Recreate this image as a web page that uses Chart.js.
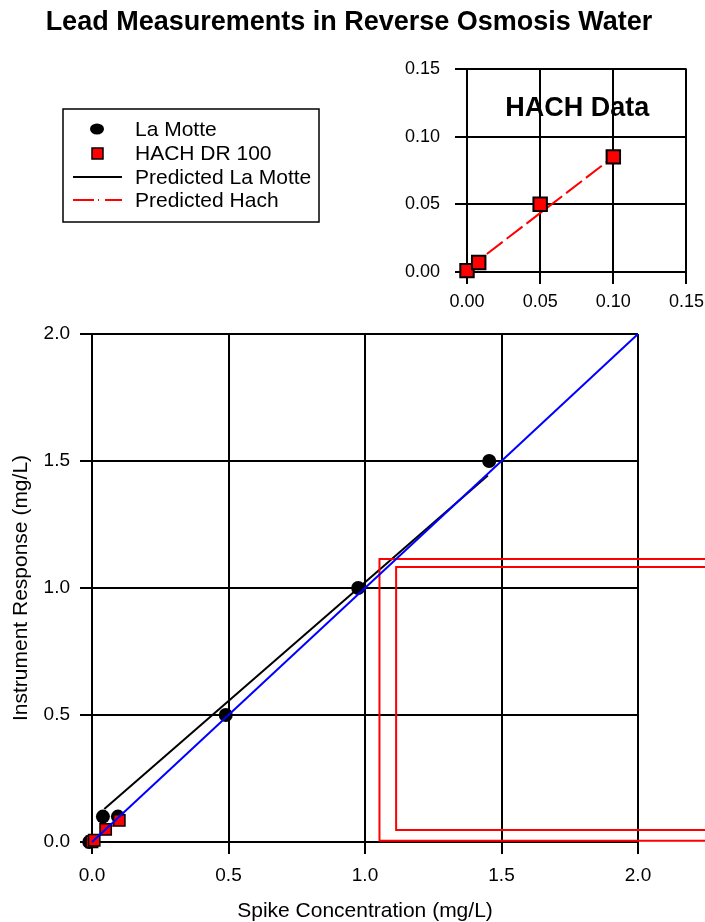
<!DOCTYPE html>
<html>
<head>
<meta charset="utf-8">
<script src="https://cdn.jsdelivr.net/npm/chart.js@4.4.1/dist/chart.umd.min.js"></script>
<style>
    html, body { margin: 0; padding: 0; background: #fff; }
    #wrap { position: relative; width: 705px; height: 922px; overflow: hidden; }
    #mainChart { position: absolute; left: 0; top: 0; width: 705px; height: 922px; }
    #insetChart { position: absolute; left: 380px; top: 43px; width: 331px; height: 282px; }
</style>
</head>
<body>
<div id="wrap">
    <canvas id="mainChart" width="705" height="922"></canvas>
    <canvas id="insetChart" width="331" height="282"></canvas>
</div>
<script>
const laMotteX = [-0.01, 0.04, 0.095, 0.49, 0.975, 1.455];
const laMotteY = [0.0, 0.10, 0.10, 0.50, 1.00, 1.50];
const hachX = [0.0, 0.008, 0.05, 0.10];
const hachY = [0.001, 0.007, 0.050, 0.085];
const predLaMotteX = [0.045, 1.45];
const predLaMotteY = [0.13, 1.443];
const predHachX = [0.0, 0.10];
const predHachY = [0.002, 0.085];
const oneToOneX = [0, 2];
const oneToOneY = [0, 2];
// the two red outline boxes on the main plot (they run off the right edge)
const outerBoxX = [2.4, 1.053, 1.053, 2.4];
const outerBoxY = [1.114, 1.114, 0.005, 0.005];
const innerBoxX = [2.4, 1.114, 1.114, 2.4];
const innerBoxY = [1.083, 1.083, 0.047, 0.047];
const mainTicks = [0, 0.5, 1.0, 1.5, 2.0];
const insetTicks = [0, 0.05, 0.10, 0.15];

const FONT = "'Liberation Sans', Arial, sans-serif";
const RED = '#ff0000';
const HACH_DASH = [20, 5];

Chart.defaults.font.family = FONT;
Chart.defaults.color = '#000';

function toPts(xs, ys) {
    return xs.map((x, i) => ({ x, y: ys[i] }));
}

function axis(ticks, digits, extra) {
    return Object.assign({
        type: 'linear',
        min: ticks[0],
        max: ticks[ticks.length - 1],
        afterBuildTicks: a => { a.ticks = ticks.map(v => ({ value: v })); },
        grid: { color: '#000', lineWidth: 2, tickLength: 12 },
        border: { color: '#000', width: 2 },
        ticks: { color: '#000', callback: v => Number(v).toFixed(digits) }
    }, extra);
}

const decorPlugin = {
    id: 'decor',
    afterDraw(chart) {
        const ctx = chart.ctx;
        ctx.save();
        ctx.fillStyle = '#000';
        ctx.textAlign = 'center';
        ctx.textBaseline = 'middle';
        ctx.font = 'bold 27px ' + FONT;
        ctx.fillText('Lead Measurements in Reverse Osmosis Water', 349, 23);

        // legend box
        ctx.strokeStyle = '#000';
        ctx.lineWidth = 1.5;
        ctx.strokeRect(63, 109, 256, 113);
        ctx.font = '21px ' + FONT;
        ctx.textAlign = 'left';
        const ds = chart.data.datasets;
        const find = name => ds.find(d => d.label === name);
        const rows = [
            { d: find('La Motte'), y: 129 },
            { d: find('HACH DR 100'), y: 153 },
            { d: find('Predicted La Motte'), y: 177 },
            { d: find('Predicted Hach'), y: 200 }
        ];
        rows.forEach(r => {
            const d = r.d;
            ctx.save();
            if (d.pointStyle === 'circle') {
                ctx.fillStyle = d.backgroundColor;
                ctx.beginPath();
                ctx.ellipse(97, r.y, 7, 5.5, 0, 0, Math.PI * 2);
                ctx.fill();
            } else if (d.pointStyle === 'rect') {
                ctx.fillStyle = d.backgroundColor;
                ctx.strokeStyle = d.borderColor;
                ctx.lineWidth = 1.5;
                ctx.fillRect(92, r.y - 5, 11, 11);
                ctx.strokeRect(92, r.y - 5, 11, 11);
            } else {
                ctx.strokeStyle = d.borderColor;
                ctx.lineWidth = 2;
                if (d.borderDash) ctx.setLineDash([21, 4, 1, 6]);
                ctx.beginPath();
                ctx.moveTo(73, r.y);
                ctx.lineTo(122, r.y);
                ctx.stroke();
            }
            ctx.restore();
            ctx.fillText(d.label, 135, r.y + 1);
        });
        ctx.restore();
    }
};

new Chart(document.getElementById('mainChart'), {
    type: 'scatter',
    data: {
        datasets: [
            { label: '1:1', data: toPts(oneToOneX, oneToOneY), showLine: true, borderColor: '#0000ff', borderWidth: 2, pointRadius: 0, clip: false, order: 0 },
            { label: 'box outer', data: toPts(outerBoxX, outerBoxY), showLine: true, borderColor: RED, borderWidth: 2, pointRadius: 0, clip: false, order: 1 },
            { label: 'box inner', data: toPts(innerBoxX, innerBoxY), showLine: true, borderColor: RED, borderWidth: 2, pointRadius: 0, clip: false, order: 1 },
            { label: 'HACH DR 100', data: toPts(hachX, hachY), pointStyle: 'rect', pointRadius: 8, backgroundColor: RED, borderColor: '#000', borderWidth: 1.5, clip: false, order: 2 },
            { label: 'La Motte', data: toPts(laMotteX, laMotteY), pointStyle: 'circle', pointRadius: 7, backgroundColor: '#000', borderColor: '#000', borderWidth: 0, clip: false, order: 3 },
            { label: 'Predicted La Motte', data: toPts(predLaMotteX, predLaMotteY), showLine: true, borderColor: '#000', borderWidth: 2, pointRadius: 0, clip: false, order: 4 },
            { label: 'Predicted Hach', data: toPts(predHachX, predHachY), showLine: true, borderColor: RED, borderWidth: 2, borderDash: HACH_DASH, pointRadius: 0, clip: false, order: 5 }
        ]
    },
    options: {
        responsive: false,
        animation: false,
        events: [],
        layout: { padding: { left: 0, top: 334, right: 67, bottom: 0 } },
        plugins: { legend: { display: false }, tooltip: { enabled: false } },
        scales: {
            x: axis(mainTicks, 1, {
                afterFit: s => { s.height = 80; },
                ticks: { color: '#000', font: { size: 19 }, padding: 10, callback: v => Number(v).toFixed(1) },
                title: { display: true, text: 'Spike Concentration (mg/L)', color: '#000', font: { size: 21, lineHeight: 1.0 }, padding: { top: 0, bottom: 0 } }
            }),
            y: axis(mainTicks, 1, {
                afterFit: s => { s.width = 92; },
                ticks: { color: '#000', font: { size: 19 }, padding: 10, callback: v => Number(v).toFixed(1) },
                title: { display: true, text: 'Instrument Response (mg/L)', color: '#000', font: { size: 21 }, padding: { top: 9, bottom: 0 } }
            })
        }
    },
    plugins: [decorPlugin]
});

const insetLabel = {
    id: 'insetLabel',
    afterDraw(chart) {
        const ctx = chart.ctx;
        const x = chart.scales.x.getPixelForValue(0.0753);
        const y = chart.scales.y.getPixelForValue(0.121);
        ctx.save();
        ctx.fillStyle = '#000';
        ctx.font = 'bold 27px ' + FONT;
        ctx.textAlign = 'center';
        ctx.textBaseline = 'middle';
        ctx.fillText('HACH Data', x, y);
        ctx.restore();
    }
};

new Chart(document.getElementById('insetChart'), {
    type: 'scatter',
    data: {
        datasets: [
            { label: 'HACH DR 100', data: toPts(hachX, hachY), pointStyle: 'rect', pointRadius: 9.5, backgroundColor: RED, borderColor: '#000', borderWidth: 2, clip: false, order: 0 },
            { label: 'Predicted Hach', data: toPts(predHachX, predHachY), showLine: true, borderColor: RED, borderWidth: 2, borderDash: HACH_DASH, pointRadius: 0, clip: false, order: 1 }
        ]
    },
    options: {
        responsive: false,
        animation: false,
        events: [],
        layout: { padding: { left: 0, top: 0, right: 0, bottom: 0 } },
        plugins: { legend: { display: false }, tooltip: { enabled: false } },
        scales: {
            x: axis(insetTicks, 2, {
                afterFit: s => { s.height = 53; },
                ticks: { color: '#000', font: { size: 18 }, padding: 7, callback: v => Number(v).toFixed(2) }
            }),
            y: axis(insetTicks, 2, {
                afterFit: s => { s.width = 87; },
                ticks: { color: '#000', font: { size: 18 }, padding: 15, callback: v => Number(v).toFixed(2) }
            })
        }
    },
    plugins: [insetLabel]
});
</script>
</body>
</html>
